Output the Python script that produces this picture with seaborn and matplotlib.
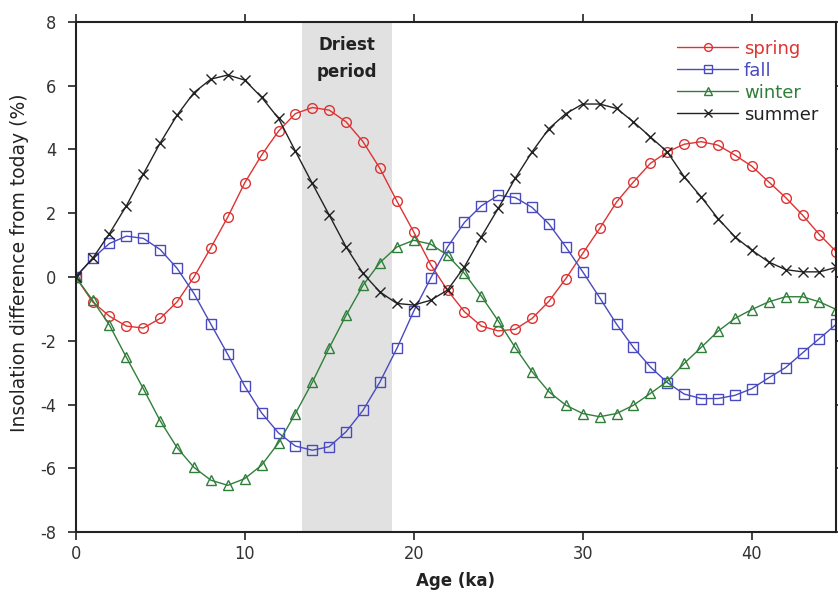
import numpy as np
import pandas as pd
import matplotlib
matplotlib.use("Agg")
import matplotlib.pyplot as plt
import seaborn as sns

# ages (ka), one point per thousand years
ages = list(range(0, 46))

spring = [0, -0.78, -1.23, -1.54, -1.6, -1.3, -0.78, 0.0, 0.92, 1.88, 2.95, 3.82, 4.57, 5.12,
          5.31, 5.23, 4.86, 4.24, 3.4, 2.38, 1.41, 0.39, -0.42, -1.09, -1.54, -1.69, -1.64,
          -1.3, -0.76, -0.05, 0.74, 1.52, 2.35, 2.98, 3.56, 3.92, 4.16, 4.24, 4.13, 3.82,
          3.47, 2.98, 2.49, 1.94, 1.33, 0.79]
fall = [0, 0.58, 1.05, 1.28, 1.21, 0.86, 0.27, -0.52, -1.48, -2.43, -3.42, -4.26, -4.89, -5.3,
        -5.43, -5.32, -4.85, -4.18, -3.29, -2.24, -1.07, -0.04, 0.94, 1.71, 2.23, 2.56, 2.49,
        2.18, 1.66, 0.94, 0.16, -0.65, -1.48, -2.21, -2.82, -3.31, -3.67, -3.81, -3.81,
        -3.71, -3.5, -3.16, -2.84, -2.38, -1.93, -1.48]
winter = [0, -0.73, -1.51, -2.52, -3.5, -4.51, -5.35, -5.97, -6.37, -6.53, -6.32, -5.9, -5.2,
          -4.28, -3.3, -2.22, -1.2, -0.26, 0.45, 0.94, 1.15, 1.03, 0.68, 0.11, -0.6, -1.38,
          -2.21, -2.97, -3.6, -4.02, -4.28, -4.38, -4.28, -4.02, -3.65, -3.27, -2.71, -2.21,
          -1.7, -1.3, -1.02, -0.78, -0.62, -0.62, -0.78, -1.02]
summer = [0, 0.58, 1.36, 2.23, 3.22, 4.2, 5.07, 5.78, 6.2, 6.33, 6.17, 5.63, 4.97, 3.94, 2.93,
          1.94, 0.94, 0.11, -0.47, -0.83, -0.88, -0.73, -0.41, 0.32, 1.26, 2.15, 3.09, 3.92,
          4.65, 5.12, 5.42, 5.42, 5.28, 4.86, 4.39, 3.92, 3.14, 2.51, 1.83, 1.26, 0.84, 0.47,
          0.23, 0.16, 0.16, 0.3]

driest = (13.4, 18.7)

sns.set_style("ticks")
plt.rcParams['font.family'] = ['DejaVu Sans']
plt.rcParams['axes.unicode_minus'] = False

fig = plt.figure(figsize=(8.38, 5.98), dpi=100)
ax = fig.add_axes([0.0903, 0.110, 0.9077, 0.8537])

ax.axvspan(*driest, color="#e1e1e1", lw=0, zorder=0)
ax.text(sum(driest) / 2, 6.85, "Driest\nperiod", ha="center", va="center",
        fontsize=12, fontweight="bold", color="#222222", linespacing=1.6)

series = [
    ("spring", spring, "#dd3333", "o"),
    ("fall", fall, "#4a4ac0", "s"),
    ("winter", winter, "#2f7f3a", "^"),
    ("summer", summer, "#222222", "x"),
]
for name, vals, col, mk in series:
    sns.lineplot(x=ages, y=vals, ax=ax, color=col, marker=mk, markersize=7,
                 markerfacecolor="none", markeredgecolor=col, markeredgewidth=1.0,
                 linewidth=1.0, label=name)

ax.set_xlim(0, 45)
ax.set_ylim(-8, 8)
ax.set_xticks([0, 10, 20, 30, 40])
ax.set_yticks(range(-8, 9, 2))

for lab in ax.get_xticklabels() + ax.get_yticklabels():
    lab.set_stretch("condensed")
    lab.set_fontsize(13)

ax.tick_params(axis="both", direction="out", length=6, width=1.2, colors="#222222",
               labelcolor="#333333", top=True)
ax.tick_params(axis="y", pad=8, right=True, labelright=False)
for side in ["top", "right", "left", "bottom"]:
    ax.spines[side].set_visible(True)
    ax.spines[side].set_linewidth(1.5)
    ax.spines[side].set_color("#222222")

ax.set_xlabel("Age (ka)", fontsize=12, fontweight="bold", color="#222222", labelpad=6)
ax.set_ylabel("Insolation difference from today (%)", fontsize=13.5, color="#222222")
ax.yaxis.set_label_coords(-0.062, 0.527)

leg = ax.legend(loc="upper right", frameon=False, fontsize=13, handlelength=3.4,
                labelcolor="linecolor", borderaxespad=0.6, labelspacing=0.22,
                handletextpad=0.3, markerscale=0.8)

fig.savefig("out.png", dpi=100)
